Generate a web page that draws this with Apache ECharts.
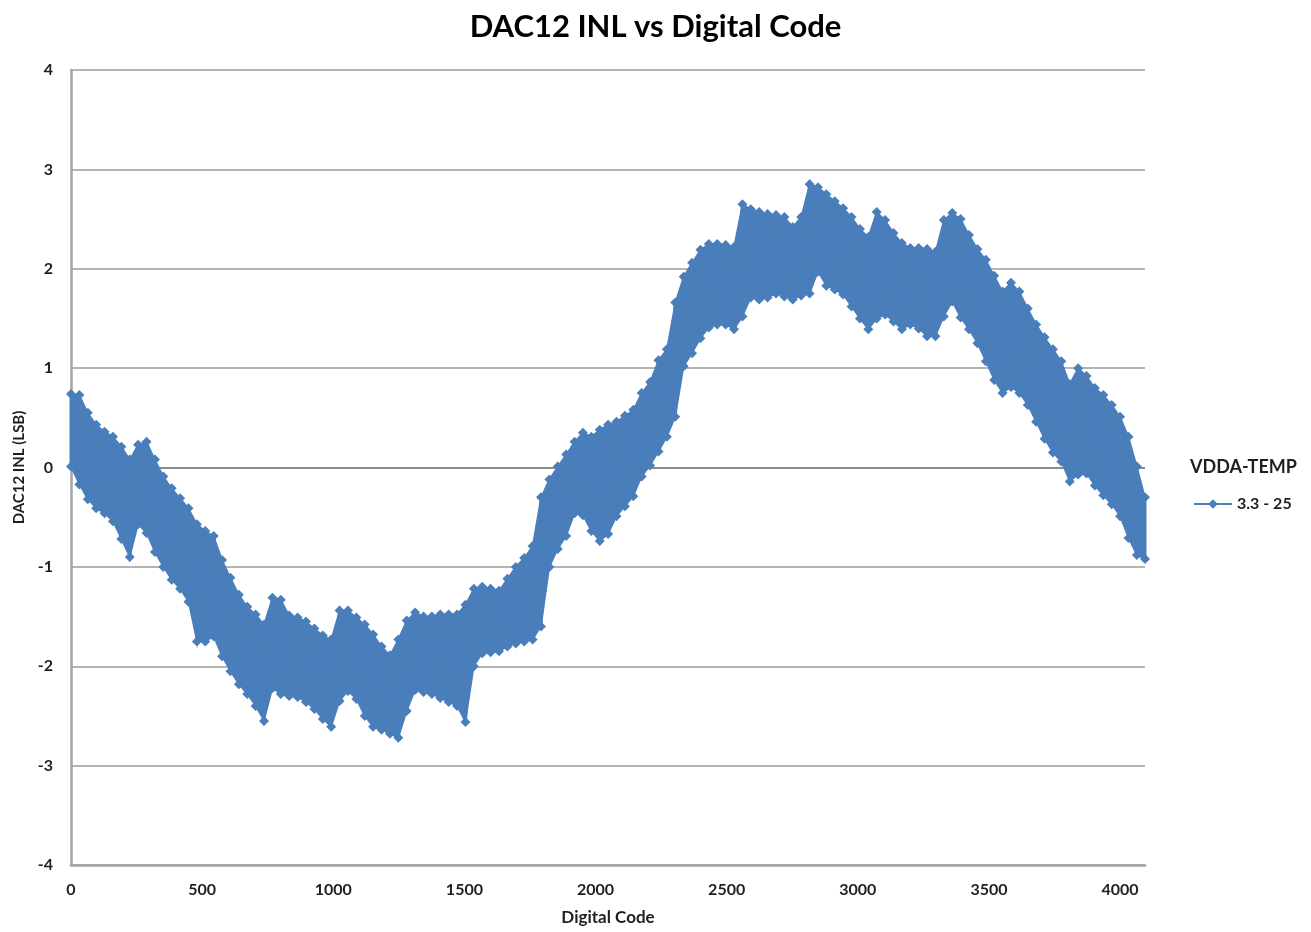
<!DOCTYPE html>
<html>
<head>
<meta charset="utf-8">
<title>DAC12 INL vs Digital Code</title>
<script src="https://cdn.jsdelivr.net/npm/echarts@6/dist/echarts.min.js"></script>
<style>
  html, body { margin: 0; padding: 0; background: #fff; }
  #chart { width: 1311px; height: 932px; }
</style>
</head>
<body>
<div id="chart"></div>
<script>
// INL band, one pair every 32 codes (last one at code 4095)
// upper = top of the noise band, lower = bottom of it (LSB)
let codeStep = 32
let seriesName = '3.3 - 25'
let legendTitle = 'VDDA-TEMP'

let upper = [
  0.74, 0.73, 0.55, 0.43, 0.36, 0.31, 0.21, 0.08, 0.23, 0.26,
  0.08, -0.09, -0.21, -0.31, -0.41, -0.57, -0.64, -0.69, -0.93, -1.11,
  -1.28, -1.40, -1.48, -1.58, -1.31, -1.33, -1.49, -1.51, -1.55, -1.62,
  -1.69, -1.73, -1.44, -1.44, -1.51, -1.58, -1.68, -1.80, -1.89, -1.73,
  -1.54, -1.46, -1.50, -1.50, -1.48, -1.48, -1.48, -1.38, -1.22, -1.20,
  -1.22, -1.24, -1.12, -1.00, -0.91, -0.79, -0.30, -0.12, 0.01, 0.13,
  0.26, 0.35, 0.31, 0.38, 0.43, 0.46, 0.52, 0.58, 0.75, 0.86,
  1.08, 1.19, 1.66, 1.92, 2.06, 2.19, 2.25, 2.25, 2.24, 2.22,
  2.65, 2.60, 2.57, 2.55, 2.54, 2.52, 2.42, 2.52, 2.85, 2.82,
  2.75, 2.68, 2.61, 2.52, 2.40, 2.32, 2.57, 2.49, 2.36, 2.26,
  2.21, 2.21, 2.20, 2.17, 2.49, 2.56, 2.50, 2.34, 2.20, 2.09,
  1.93, 1.77, 1.86, 1.77, 1.60, 1.44, 1.31, 1.19, 1.07, 0.84,
  1.00, 0.92, 0.80, 0.73, 0.63, 0.51, 0.31, 0.01, -0.30
]

let lower = [
  0.01, -0.17, -0.32, -0.41, -0.46, -0.54, -0.72, -0.90, -0.57, -0.66,
  -0.85, -1.00, -1.13, -1.22, -1.35, -1.75, -1.75, -1.70, -1.90, -2.05,
  -2.18, -2.28, -2.40, -2.55, -2.22, -2.28, -2.30, -2.31, -2.36, -2.43,
  -2.53, -2.61, -2.35, -2.25, -2.33, -2.50, -2.61, -2.64, -2.68, -2.72,
  -2.45, -2.24, -2.26, -2.28, -2.32, -2.36, -2.40, -2.56, -2.00, -1.87,
  -1.86, -1.85, -1.80, -1.77, -1.75, -1.73, -1.60, -1.00, -0.82, -0.69,
  -0.46, -0.48, -0.64, -0.74, -0.67, -0.49, -0.39, -0.29, -0.09, 0.02,
  0.16, 0.31, 0.51, 1.02, 1.15, 1.30, 1.41, 1.44, 1.44, 1.39,
  1.52, 1.71, 1.69, 1.71, 1.75, 1.72, 1.69, 1.73, 1.75, 1.97,
  1.83, 1.79, 1.74, 1.62, 1.50, 1.39, 1.50, 1.54, 1.47, 1.39,
  1.44, 1.40, 1.32, 1.32, 1.52, 1.67, 1.51, 1.39, 1.25, 1.07,
  0.88, 0.75, 0.81, 0.75, 0.63, 0.46, 0.29, 0.15, 0.06, -0.14,
  -0.07, -0.06, -0.18, -0.28, -0.37, -0.49, -0.71, -0.88, -0.92
]

let xMin = 0
let xMax = 4095
let xInterval = 500
let yMin = -4
let yMax = 4
let yInterval = 1

// band pieces: [code, top, bottom, nextCode, nextTop, nextBottom]
let bandPieces = []
// markers on both edges of the band
let points = []
let codeAt = i => Math.min(i * codeStep, xMax)
for (let i = 0; i < upper.length; i++) {
  let code = codeAt(i)
  points.push([code, upper[i]])
  points.push([code, lower[i]])
  if (i < upper.length - 1) {
    bandPieces.push([code, upper[i], lower[i], codeAt(i + 1), upper[i + 1], lower[i + 1]])
  }
}

let blue = '#4a7ebb'
let font = 'Lato, "Open Sans", sans-serif'
let gridGray = '#b4b4b4'
let textColor = '#1f1f1f'

function renderBand(params, api) {
  let a = api.coord([api.value(0), api.value(1)])
  let b = api.coord([api.value(3), api.value(4)])
  let c = api.coord([api.value(3), api.value(5)])
  let d = api.coord([api.value(0), api.value(2)])
  return {
    type: 'polygon',
    shape: { points: [a, b, c, d] },
    style: { fill: blue, stroke: blue, lineWidth: 1.5 }
  }
}

let chart = echarts.init(document.getElementById('chart'))

chart.setOption({
  animation: false,
  backgroundColor: '#fff',
  title: [
    {
      text: 'DAC12 INL vs Digital Code',
      left: 'center',
      top: 6,
      textStyle: { fontFamily: font, fontSize: 31, fontWeight: 'bold', color: '#000' }
    },
    {
      text: legendTitle,
      left: 1185,
      top: 453,
      textStyle: { fontFamily: font, fontSize: 18, fontWeight: 'bold', color: textColor }
    }
  ],
  legend: {
    left: 1188,
    top: 491,
    itemWidth: 38,
    itemHeight: 12,
    itemGap: 4,
    textStyle: { fontFamily: font, fontSize: 16, fontWeight: 'bold', color: textColor },
    data: [seriesName]
  },
  grid: {
    left: 71,
    right: 166,
    top: 70,
    bottom: 67
  },
  xAxis: {
    type: 'value',
    min: xMin,
    max: xMax,
    interval: xInterval,
    name: 'Digital Code',
    nameLocation: 'middle',
    nameGap: 44,
    nameTextStyle: { fontFamily: font, fontSize: 17, fontWeight: 'bold', color: textColor },
    axisLine: { onZero: false, lineStyle: { color: '#a3a3a3', width: 2.5 } },
    axisTick: { show: false },
    splitLine: { show: false },
    axisLabel: {
      margin: 17,
      showMaxLabel: false,
      formatter: function (v) { return String(v) },
      fontFamily: font,
      fontSize: 16,
      fontWeight: 'bold',
      color: textColor
    }
  },
  yAxis: {
    type: 'value',
    min: yMin,
    max: yMax,
    interval: yInterval,
    name: 'DAC12 INL (LSB)',
    nameLocation: 'middle',
    nameGap: 39,
    nameTextStyle: { fontFamily: font, fontSize: 15, fontWeight: 'bold', color: textColor },
    axisLine: { show: true, lineStyle: { color: '#a3a3a3', width: 2.5 } },
    axisTick: { show: false },
    splitLine: {
      lineStyle: {
        // zero line is the darker one (index 4 counts from -4)
        color: [gridGray, gridGray, gridGray, gridGray, '#8a8a8a', gridGray, gridGray, gridGray, gridGray],
        width: 2
      }
    },
    axisLabel: {
      margin: 18,
      fontFamily: font,
      fontSize: 16,
      fontWeight: 'bold',
      color: textColor
    }
  },
  series: [
    {
      name: 'band',
      type: 'custom',
      renderItem: renderBand,
      data: bandPieces,
      encode: { x: [0, 3], y: [1, 2, 4, 5] },
      silent: true
    },
    {
      name: seriesName,
      type: 'line',
      data: points,
      symbol: 'diamond',
      symbolSize: 10,
      showAllSymbol: true,
      itemStyle: { color: blue },
      lineStyle: { color: blue, width: 3, join: 'round' }
    }
  ]
})
</script>
</body>
</html>
